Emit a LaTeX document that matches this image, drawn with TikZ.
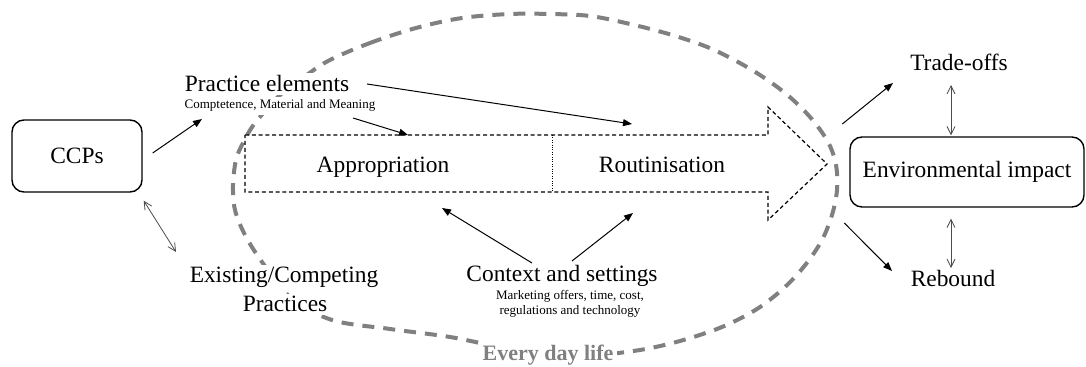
\documentclass[tikz,border=0pt]{standalone}
\usepackage{fontspec}
\setmainfont{Liberation Serif}
\usetikzlibrary{arrows.meta}
\definecolor{ellgray}{RGB}{128,128,128}
\begin{document}
\begin{tikzpicture}[x=0.5pt,y=-0.5pt,
  box/.style={draw, rounded corners=6pt, line width=0.7pt, inner sep=0pt, font=\fontsize{11.7}{14}\selectfont},
  lbl/.style={font=\fontsize{11.7}{14}\selectfont, inner sep=0pt, anchor=base},
  sml/.style={font=\fontsize{6.5}{8}\selectfont, inner sep=0pt, anchor=base},
  wbg/.style={fill=white, inner sep=1.5pt},
  arr/.style={line width=0.5pt, -{Triangle[length=4.5pt,width=3.5pt]}},
  dbl/.style={line width=0.4pt, draw=black!70, {Straight Barb[length=4pt,width=4pt]}-{Straight Barb[length=4pt,width=4pt]}},
  bigarrow/.style={draw, line width=0.6pt, dash pattern=on 2pt off 1.4pt},
  divider/.style={draw, line width=0.35pt, dash pattern=on 0.5pt off 0.7pt},
  everyday/.style={draw=ellgray, line width=2pt, dash pattern=on 6pt off 4.5pt}
]
\useasboundingbox (0,0) rectangle (1086,367);

% every day life boundary
\draw[everyday] plot[smooth cycle, tension=0.55] coordinates {
 (328,61) (370,43) (416,28) (462,18) (510,14) (550,14) (590,16) (630,24)
 (672,35) (712,49) (752,70) (785,93) (810,117) (828,142) (836,165) (837,190)
 (832,215) (822,240) (806,264) (785,287) (757,309) (722,327) (680,341) (640,350)
 (595,355) (550,354) (500,347) (450,337) (390,329) (332,320) (290,297) (262,262)
 (245,235) (235,210) (233,185) (236,160) (243,143) (255,123) (280,95) (300,80)};

% big dashed arrow
\draw[bigarrow] (245,135) -- (768,135) -- (768,107) -- (827,164) -- (768,220) -- (768,192) -- (245,192) -- cycle;
\draw[divider] (552,135) -- (552,192);

% nodes
\node[box, minimum width=65pt, minimum height=36pt] (ccp) at (77,156) {CCPs};
\node[box, minimum width=117pt, minimum height=35pt] (env) at (967,172) {Environmental impact};

\node[lbl, wbg] (pe) at (267,92) {Practice elements};
\node[sml, wbg] (pesub) at (280,109) {Comptetence, Material and Meaning};
\node[lbl] (appr) at (383,173) {Appropriation};
\node[lbl] (rout) at (662,173) {Routinisation};
\node[lbl, wbg] (ex1) at (284,283) {Existing/Competing};
\node[lbl, wbg] (ex2) at (285,312) {Practices};
\node[lbl] (ctx) at (562,282) {Context and settings};
\node[sml] (ctx1) at (570,300) {Marketing offers, time, cost,};
\node[sml] (ctx2) at (570,315) {regulations and technology};
\node[font=\bfseries\fontsize{11}{13}\selectfont, text=ellgray, fill=white, inner sep=2pt, anchor=base] (edl) at (548,361) {Every day life};
\node[lbl] (trade) at (959,71) {Trade-offs};
\node[lbl] (reb) at (953,287) {Rebound};

% connectors
\draw[arr] ([shift={(10,-3)}]ccp.east) -- ([shift={(-65,27)}]pe.base);
\draw[dbl] ([shift={(1,8)}]ccp.south east) -- ([shift={(-108,-31)}]ex1.base);
\draw[arr] ([shift={(86,26)}]pe.base) -- ([shift={(25,-38)}]appr.base);
\draw[arr] ([shift={(100,-8)}]pe.base) -- ([shift={(-30,-49)}]rout.base);
\draw[arr] ([shift={(-30,-19)}]ctx.base) -- ([shift={(59,35)}]appr.base);
\draw[arr] ([shift={(10,-21)}]ctx.base) -- ([shift={(-29,40)}]rout.base);
\draw[arr] ([shift={(-7,-48)}]env.west) -- ([shift={(-66,12)}]trade.base);
\draw[dbl] ([shift={(-8,14)}]trade.base) -- ([shift={(-16,-1)}]env.north);
\draw[arr] ([shift={(-5,51)}]env.west) -- ([shift={(-61,-16)}]reb.base);
\draw[dbl] ([shift={(-16,11)}]env.south) -- ([shift={(-2,-19)}]reb.base);
\end{tikzpicture}
\end{document}
